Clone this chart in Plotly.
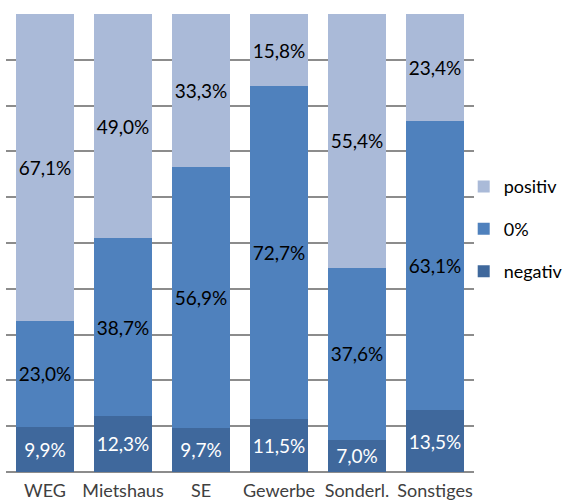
import plotly.graph_objects as go

categories = ["WEG", "Mietshaus", "SE", "Gewerbe", "Sonderl.", "Sonstiges"]
negativ = [9.9, 12.3, 9.7, 11.5, 7.0, 13.5]
null_pct = [23.0, 38.7, 56.9, 72.7, 37.6, 63.1]
positiv = [67.1, 49.0, 33.3, 15.8, 55.4, 23.4]

# name, values, fill colour, label colour, legend rank
series = [
    ("negativ", negativ, "#3F689C", "white", 3),
    ("0%", null_pct, "#4F81BD", "black", 2),
    ("positiv", positiv, "#AABAD8", "black", 1),
]

FONT = "Lato"

fig = go.Figure()
for i, (name, vals, color, tcol, rank) in enumerate(series):
    fig.add_trace(go.Bar(
        x=categories, y=vals, name=name,
        marker=dict(color=color, line=dict(width=0)),
        text=[f"{v:.1f}%".replace(".", ",") for v in vals],
        textposition="inside", insidetextanchor="middle",
        textangle=0, constraintext="none",
        textfont=dict(family=FONT, size=19, color=tcol),
        legendgroup=f"g{i}", legendrank=rank,
    ))

fig.update_layout(
    barmode="stack", bargap=0.256,
    width=567, height=503,
    margin=dict(l=6, r=93, t=14, b=31, autoexpand=False),
    plot_bgcolor="white", paper_bgcolor="white",
    font=dict(family=FONT, size=18, color="#404040"),
    legend=dict(
        x=0.978, xanchor="left", y=0.53, yanchor="middle",
        traceorder="grouped", tracegroupgap=16,
        bgcolor="rgba(0,0,0,0)",
        font=dict(family=FONT, size=18, color="black"),
        itemwidth=30,
    ),
    xaxis=dict(showline=False, ticks="", tickangle=0, automargin=False,
               ticklabelstandoff=6, tickfont=dict(size=18, color="#404040")),
    yaxis=dict(range=[0, 100], dtick=10, showticklabels=False, automargin=False,
               showgrid=True, gridcolor="#8C8C8C", gridwidth=2,
               zeroline=True, zerolinecolor="#8C8C8C", zerolinewidth=2),
)

fig.write_html("out.html")
